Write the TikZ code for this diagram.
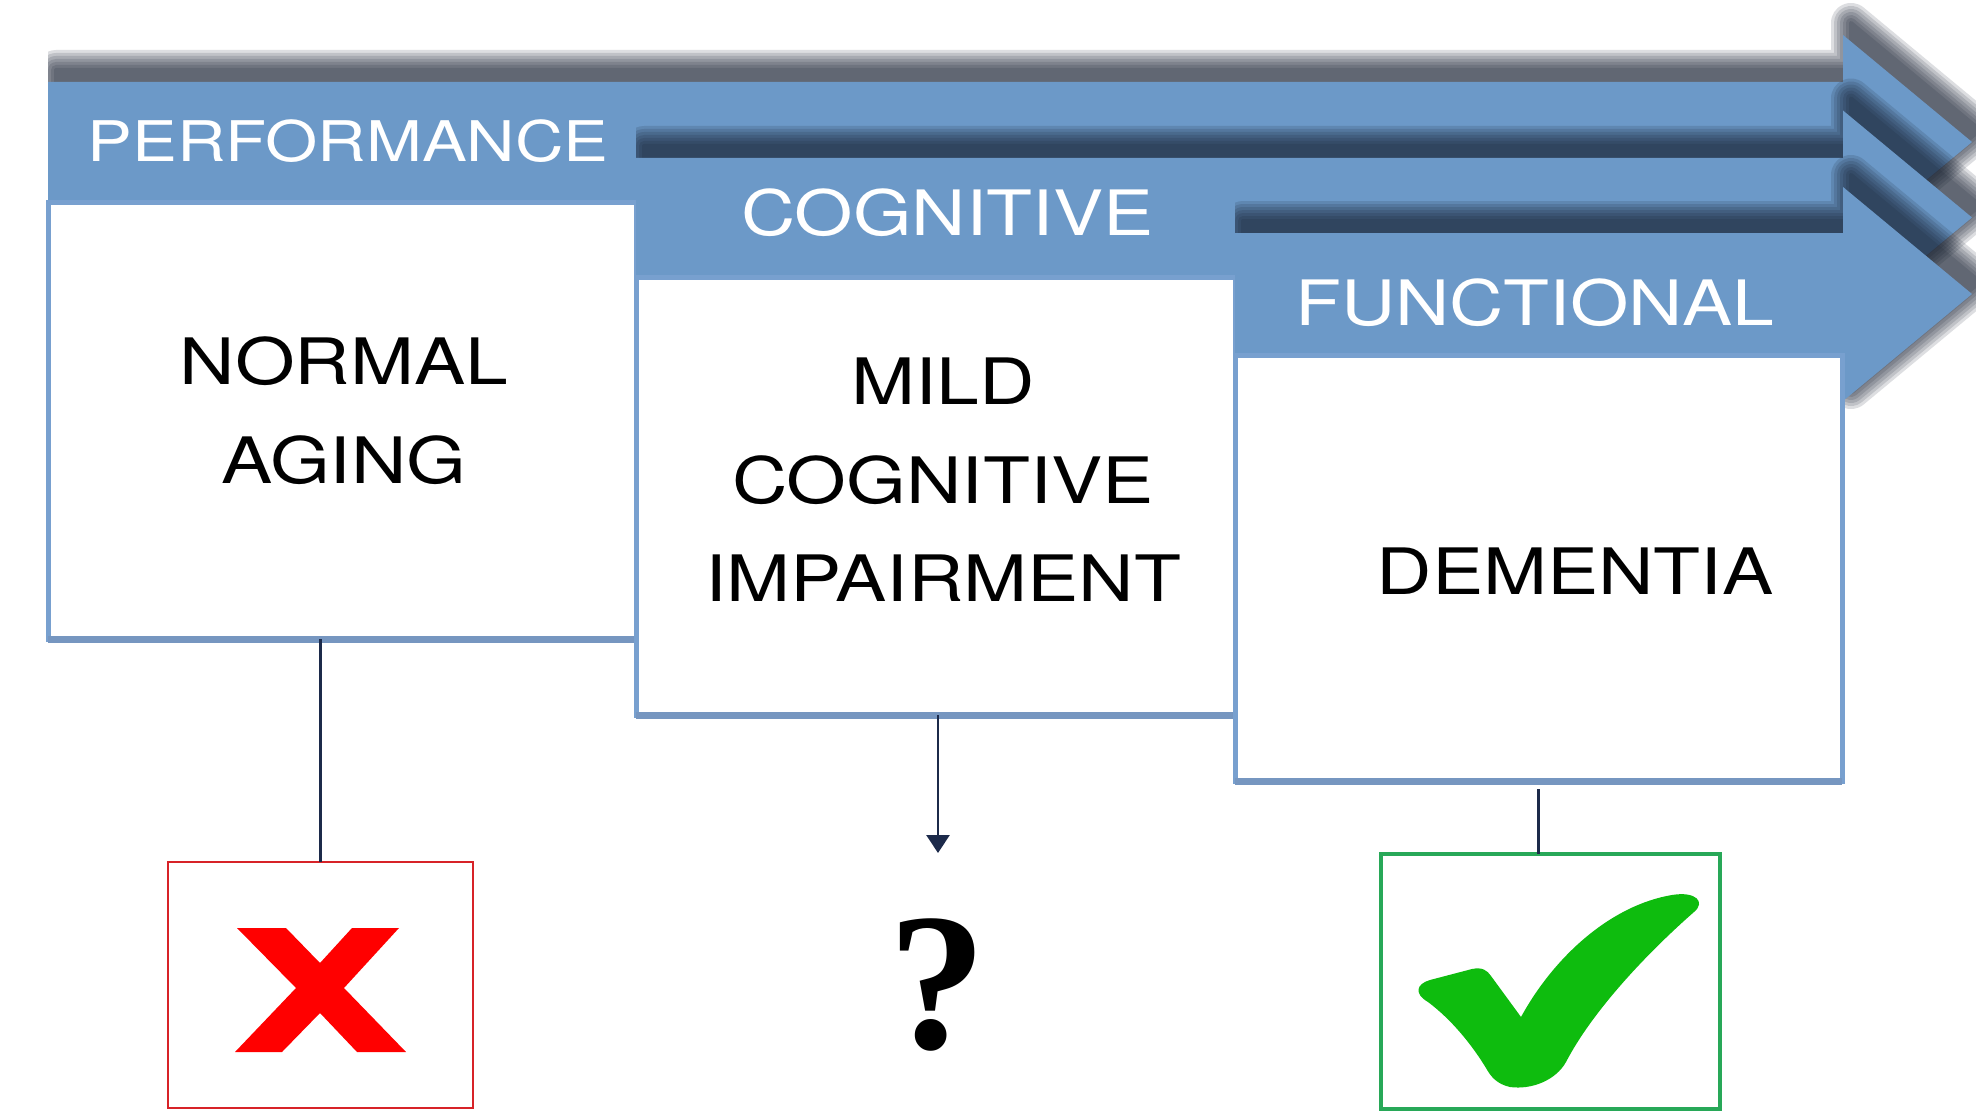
\documentclass[tikz,border=0pt]{standalone}
\usepackage{fontspec}
\setmainfont{TeX Gyre Heros}
\newfontfamily\hv[FakeStretch=1.2]{TeX Gyre Heros}
\newfontfamily\qmfont{Liberation Serif}
\usetikzlibrary{fit,arrows.meta}
\definecolor{bandblue}{RGB}{108,153,200}
\definecolor{boxblue}{RGB}{120,160,207}
\definecolor{boxbottom}{RGB}{118,150,192}
\definecolor{shadowc}{RGB}{18,28,44}
\definecolor{navy}{RGB}{28,42,74}
\definecolor{xred}{RGB}{255,0,0}
\definecolor{redbox}{RGB}{215,35,40}
\definecolor{ckgreen}{RGB}{14,188,14}
\definecolor{greenbox}{RGB}{40,168,88}
\tikzset{
  whitebox/.style={inner sep=0pt, outer sep=0pt, fill=white, draw=boxblue, line width=2.5pt},
  bandtext/.style={inner sep=0pt, text=white},
  content/.style={inner sep=0pt, text=black, align=center, font=\hv\fontsize{32}{49.3}\selectfont},
  conn/.style={draw=navy, line width=1.4pt},
  iconbox/.style={inner sep=0pt, outer sep=0pt, fill=white, line width=1.4pt},
}
\newcommand\bandshape[4]{%
  \fill[bandblue] (#1,#2) -- (1843,#2) -- (1843,#4-107) -- (1972,#4) -- (1843,#4+107) -- (1843,#3) -- (#1,#3) -- cycle;}
\newcommand\bandshadow[4]{%
  \begin{scope}
    \clip (#1,0) rectangle (1976,1113);
    \foreach \w in {20,17,14,11,8,5,2}{%
      \begin{scope}[transparency group, opacity=0.14]
        \filldraw[shadowc, line width=\w pt, line join=round, xshift=4pt, yshift=6pt]
          (#1,#2) -- (1843,#2) -- (1843,#4-107) -- (1972,#4) -- (1843,#4+107) -- (1843,#3) -- (#1,#3) -- cycle;
      \end{scope}}
  \end{scope}}
\begin{document}
\begin{tikzpicture}[x=0.5pt,y=-0.5pt]
\useasboundingbox (0,0) rectangle (1976,1113);
\fill[white] (0,0) rectangle (1976,1113);

% stage 1
\bandshadow{48}{82}{202}{142}
\bandshape{48}{82}{202}{142}
\node[whitebox, fit={(48,202)(636,639)}] (b1) {};
\draw[boxbottom, line width=3.5pt] (b1.south west) -- (b1.south east);

% stage 2
\bandshadow{636}{158}{277}{217.5}
\bandshape{636}{158}{277}{217.5}
\node[whitebox, fit={(636,277)(1235,715)}] (b2) {};
\draw[boxbottom, line width=3.5pt] (b2.south west) -- (b2.south east);

% stage 3
\bandshadow{1235}{233}{355}{294}
\bandshape{1235}{233}{355}{294}
\node[whitebox, fit={(1235,355)(1842,781)}] (b3) {};
\draw[boxbottom, line width=3.5pt] (b3.south west) -- (b3.south east);

% band labels
\node[bandtext, font=\hv\fontsize{28}{30}\selectfont, anchor=base west] (t1) at (87,162) {PERFORMANCE};
\node[bandtext, font=\hv\fontsize{31.3}{33}\selectfont, anchor=base west] (t2) at (741,235) {COGNITIVE};
\node[bandtext, font=\hv\fontsize{31.3}{33}\selectfont, anchor=base west] (t3) at (1295,325) {FUNCTIONAL};

% box contents
\node[content] (n1) at (344,410.5) {NORMAL\\AGING};
\node[content] (n2) at (943,480) {MILD\\COGNITIVE\\IMPAIRMENT};
\node[content, anchor=base] (n3) at (1575,594) {DEMENTIA};

% outcome boxes
\node[iconbox, draw=redbox, fit={(168,862)(473,1108)}] (rb) {};
\node[iconbox, draw=greenbox, line width=1.6pt, fit={(1381,854)(1720,1109)}] (gb) {};

% red X
\fill[xred] (237,928) -- (286,928) -- (320,963) -- (352,928) -- (399,928) -- (344,988)
  -- (406,1052) -- (357,1052) -- (320,1013) -- (282,1052) -- (235,1052) -- (296,988) -- cycle;

% question mark
\node[inner sep=0pt, anchor=base, font=\qmfont\bfseries\fontsize{98}{98}\selectfont] (q) at (937,1048) {?};

% green check
\fill[ckgreen] (1428,1002)
  .. controls (1414,994) and (1416,984) .. (1430,980)
  -- (1472,969)
  .. controls (1482,967) and (1487,970) .. (1491,976)
  -- (1521,1017)
  .. controls (1555,955) and (1612,905) .. (1672,895)
  .. controls (1696,891) and (1706,902) .. (1694,912)
  .. controls (1645,955) and (1592,1012) .. (1566,1062)
  .. controls (1556,1080) and (1532,1090) .. (1510,1087)
  .. controls (1497,1084) and (1491,1077) .. (1486,1068)
  .. controls (1472,1045) and (1452,1020) .. (1428,1002) -- cycle;

% connectors
\coordinate (qa) at (938,853);
\draw[conn] (b1.south -| rb.north) -- (rb.north);
\draw[conn, -{Triangle[length=9pt,width=11.5pt]}] (b2.south -| qa) -- (qa);
\draw[conn, shorten <=4pt] (b3.south) -- (b3.south |- gb.north);
\end{tikzpicture}
\end{document}
